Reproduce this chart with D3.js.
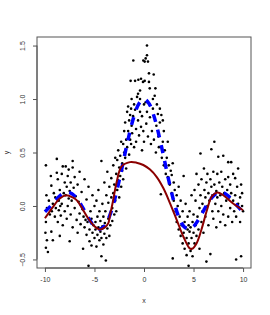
<!DOCTYPE html>
<html>
<head>
<meta charset="utf-8">
<script src="https://cdn.jsdelivr.net/npm/d3@7"></script>
<style>
  body { margin: 0; background: #fff; }
  text { font-family: "Liberation Sans", Arial, sans-serif; fill: #333; }
</style>
</head>
<body>
<div id="chart"></div>
<script>
// observed points [x, y]
var points = [
  [-9.9,0.38],[-9.85,0.1],[-9.8,-0.02],[-9.9,-0.15],[-9.95,-0.25],[-9.8,-0.32],[-9.9,-0.39],[-9.7,-0.43],[-9.6,0.05],[-9.5,-0.08],
  [-9.4,0.28],[-9.35,0.19],[-9.35,-0.24],[-9.2,-0.32],[-9.3,-0.05],[-9.2,0.02],[-9.1,0.12],[-9.0,-0.1],[-8.95,0.08],[-8.9,-0.02],
  [-8.8,0.44],[-8.8,0.31],[-8.7,0.25],[-8.7,-0.15],[-8.6,0.05],[-8.6,-0.04],[-8.5,0.15],[-8.5,-0.28],[-8.45,0.0],[-8.4,-0.09],
  [-8.3,0.3],[-8.3,0.02],[-8.2,0.37],[-8.2,-0.18],[-8.1,0.12],[-8.0,0.22],[-8.0,-0.05],[-7.9,0.37],[-7.9,0.1],[-7.8,0.18],
  [-7.8,-0.12],[-7.7,0.28],[-7.7,0.0],[-7.6,0.34],[-7.6,0.07],[-7.5,-0.33],[-7.5,0.14],[-7.4,0.22],[-7.4,-0.08],[-7.3,0.05],
  [-7.2,0.42],[-7.2,0.36],[-7.2,-0.2],[-7.1,0.17],[-7.0,0.27],[-7.0,-0.02],[-6.9,0.09],[-6.8,-0.13],[-6.7,0.2],[-6.7,-0.25],
  [-6.6,0.04],[-6.5,0.32],[-6.5,-0.07],[-6.4,-0.17],[-6.3,0.13],[-6.2,-0.03],[-6.15,-0.4],[-6.1,-0.1],[-6.0,0.25],[-6.0,-0.2],
  [-5.9,-0.13],[-5.8,0.06],[-5.8,-0.27],[-5.7,-0.15],[-5.6,-0.56],[-5.6,0.18],[-5.5,-0.22],[-5.5,-0.33],[-5.4,-0.05],[-5.3,-0.12],
  [-5.3,-0.37],[-5.2,0.1],[-5.2,-0.25],[-5.1,-0.18],[-5.0,-0.3],[-5.0,0.0],
  [-4.9,-0.15],[-4.9,-0.22],[-4.8,0.05],[-4.8,-0.38],[-4.7,-0.1],[-4.7,-0.27],[-4.6,-0.2],[-4.6,0.15],[-4.5,-0.32],[-4.5,-0.05],
  [-4.4,-0.24],[-4.4,-0.14],[-4.3,0.42],[-4.3,-0.47],[-4.3,-0.3],[-4.2,-0.19],[-4.2,0.02],[-4.1,-0.36],[-4.1,-0.1],[-4.0,-0.26],
  [-4.0,0.22],[-3.95,-0.16],[-3.85,-0.51],[-3.9,-0.05],[-3.8,-0.3],[-3.8,0.1],[-3.7,-0.21],[-3.7,0.32],[-3.6,-0.12],[-3.6,0.03],
  [-3.5,-0.28],[-3.5,0.18],[-3.4,-0.07],[-3.4,-0.18],[-3.3,0.08],[-3.3,0.26],[-3.2,-0.02],[-3.2,-0.14],[-3.1,0.38],[-3.1,0.12],
  [-3.0,-0.08],[-3.0,0.2],[-2.9,0.45],[-2.9,0.05],[-2.8,0.3],[-2.8,-0.05],[-2.7,0.43],[-2.7,0.15],[-2.6,0.24],[-2.6,0.52],
  [-2.5,0.36],[-2.5,0.08],[-2.4,0.28],[-2.4,0.47],[-2.3,0.18],[-2.3,0.6],[-2.2,0.4],[-2.2,0.33],[-2.1,0.58],[-2.1,0.25],
  [-2.0,0.5],[-2.0,0.7],
  [-1.9,0.45],[-1.9,0.78],[-1.8,0.62],[-1.8,0.35],[-1.7,0.55],[-1.7,0.88],[-1.6,0.93],[-1.6,0.7],[-1.5,0.48],[-1.5,0.8],
  [-1.4,0.85],[-1.4,0.62],[-1.35,1.17],[-1.3,0.91],[-1.3,0.58],[-1.25,1.0],[-1.25,0.75],[-1.2,0.68],[-1.1,0.84],[-1.08,1.36],
  [-1.0,0.55],[-1.0,0.95],[-0.9,1.17],[-0.9,0.9],[-0.8,0.72],[-0.8,0.6],[-0.7,1.02],[-0.6,1.05],[-0.6,0.8],[-0.57,1.18],
  [-0.5,0.66],[-0.4,1.08],[-0.4,1.0],[-0.4,0.88],[-0.3,1.19],[-0.3,0.74],[-0.2,0.84],[-0.2,0.52],[-0.1,1.16],[-0.07,1.36],
  [-0.07,0.7],[0.0,0.95],[0.0,0.6],
  [0.07,1.35],[0.07,1.17],[0.17,1.38],[0.17,0.97],[0.23,0.77],[0.3,1.5],[0.3,1.41],[0.3,0.88],[0.4,1.35],[0.4,0.65],
  [0.5,1.24],[0.5,1.16],[0.55,0.95],[0.58,1.1],[0.6,0.83],[0.7,0.58],[0.8,0.7],[0.9,1.0],[0.9,0.91],[0.98,1.23],
  [1.0,0.62],[1.08,1.03],[1.15,1.1],[1.2,0.5],[1.25,0.75],[1.3,0.95],[1.4,0.86],[1.45,0.65],[1.5,0.55],[1.6,0.91],
  [1.6,0.78],[1.7,0.11],[1.75,0.85],[1.8,0.45],[1.9,0.8],[1.9,0.6],[2.0,0.7],[2.0,0.38],
  [2.1,0.52],[2.2,0.3],[2.3,0.45],[2.4,0.27],[2.4,0.6],[2.5,0.38],[2.6,0.2],[2.7,0.33],[2.8,0.29],[2.8,0.12],
  [2.9,-0.49],[2.9,0.4],[3.0,0.05],[3.0,0.22],[3.1,0.15],[3.2,-0.05],[3.3,0.1],[3.3,-0.15],[3.4,0.0],[3.5,-0.22],
  [3.5,0.18],[3.6,-0.1],[3.7,-0.28],[3.7,0.05],[3.8,-0.18],[3.9,-0.35],[3.9,-0.05],[4.0,0.28],[4.0,-0.25],[4.1,-0.15],
  [4.1,-0.4],[4.2,-0.2],[4.2,0.02],[4.3,-0.46],[4.3,-0.3],[4.4,-0.22],[4.4,-0.1],[4.5,-0.56],[4.5,-0.18],[4.5,-0.35],
  [4.6,-0.24],[4.6,-0.05],[4.7,-0.42],[4.7,-0.2],[4.8,-0.3],[4.8,0.1],[4.9,-0.47],[4.9,-0.15],[5.0,-0.25],[5.0,-0.08],
  [5.1,0.15],[5.1,-0.35],[5.2,-0.18],[5.2,0.05],[5.3,-0.28],[5.3,0.3],[5.4,-0.1],[5.5,0.2],[5.5,-0.22],[5.6,-0.02],
  [5.6,-0.4],[5.7,0.49],[5.7,0.1],[5.8,-0.15],[5.8,0.25],[5.9,-0.05],[5.9,0.02],[6.05,0.35],[6.0,-0.25],[6.1,0.15],
  [6.2,-0.1],[6.2,0.08],[6.3,-0.52],[6.3,0.22],[6.4,0.0],[6.4,0.3],[6.5,0.12],[6.5,-0.18],[6.6,0.05],[6.7,-0.45],
  [6.7,0.25],[6.8,0.53],[6.8,0.18],[6.9,-0.05],[6.9,0.1],[7.0,0.32],[7.0,-0.12],[7.1,0.6],[7.1,0.2],[7.2,0.02],
  [7.3,0.14],[7.3,-0.2],[7.4,0.3],[7.4,0.08],[7.5,0.46],[7.5,-0.05],[7.6,0.22],[7.7,0.1],[7.7,-0.15],[7.8,0.32],
  [7.8,0.0],[7.9,0.18],[8.0,0.47],[8.0,-0.08],[8.1,0.12],[8.2,0.25],[8.2,-0.18],[8.3,0.05],[8.4,0.15],[8.5,0.41],
  [8.5,0.27],[8.5,-0.1],[8.6,0.08],[8.7,0.2],[8.7,-0.02],[8.8,0.41],[8.8,0.12],[8.9,-0.15],[9.0,0.05],[9.0,0.3],
  [9.1,-0.05],[9.2,0.26],[9.2,0.1],[9.3,-0.5],[9.3,-0.1],[9.4,0.18],[9.5,0.02],[9.5,0.35],[9.6,-0.02],[9.7,0.08],
  [9.7,-0.15],[9.8,0.2],[9.8,-0.47],[9.9,0.0],[9.9,0.12],[10.0,-0.05]
];

// true curve (blue dashed)
var trueX = [-10,-9.5,-9,-8.5,-8,-7.5,-7,-6.5,-6,-5.5,-5,-4.5,-4,-3.5,-3,-2.5,-2,-1.5,-1,-0.5,0,
             0.5,1,1.5,2,2.5,3,3.5,4,4.5,5,5.5,6,6.5,7,7.5,8,8.5,9,9.5,10];
var trueY = [-0.054,-0.008,0.046,0.094,0.124,0.125,0.094,0.033,-0.047,-0.128,-0.192,-0.217,-0.189,-0.100,0.047,0.239,0.455,0.665,0.841,0.959,1.0,
             0.959,0.841,0.665,0.455,0.239,0.047,-0.100,-0.189,-0.217,-0.192,-0.128,-0.047,0.033,0.094,0.125,0.124,0.094,0.046,-0.008,-0.054];

// smoothed fit (dark red)
var fitX = [-10,-9.2,-8.5,-7.85,-7.2,-6.8,-6.2,-5.75,-5,-4.45,-3.95,-3.6,-3.44,-3.1,-2.77,-2.26,-1.42,-0.75,-0.07,0.61,1.29,1.96,2.63,3.3,3.99,4.6,4.85,5.3,5.8,6.35,6.85,7.4,8.0,8.9,10];
var fitY = [-0.115,-0.01,0.07,0.1,0.08,0.055,-0.03,-0.1,-0.19,-0.22,-0.2,-0.16,-0.09,0.06,0.22,0.37,0.41,0.405,0.383,0.34,0.27,0.165,0.025,-0.13,-0.29,-0.395,-0.4,-0.35,-0.22,-0.04,0.09,0.125,0.1,0.03,-0.04];

var xTicks = [-10, -5, 0, 5, 10];
var yTicks = [-0.5, 0.0, 0.5, 1.0, 1.5];

var width = 270, height = 315;
var margin = {top: 37, right: 19, bottom: 47, left: 37};

var svg = d3.select("#chart").append("svg")
    .attr("width", width)
    .attr("height", height);

var xScale = d3.scaleLinear()
    .domain([-10.8, 10.8])
    .range([margin.left, width - margin.right]);

var yScale = d3.scaleLinear()
    .domain([-0.58, 1.58])
    .range([height - margin.bottom, margin.top]);

// points
svg.append("g")
  .selectAll("circle")
  .data(points)
  .enter().append("circle")
    .attr("cx", function(d) { return xScale(d[0]); })
    .attr("cy", function(d) { return yScale(d[1]); })
    .attr("r", 1.3)
    .attr("fill", "#000");

// blue dashed true function
var trueLine = d3.line()
    .x(function(d, i) { return xScale(trueX[i]); })
    .y(function(d) { return yScale(d); })
    .curve(d3.curveCatmullRom);

svg.append("path")
    .attr("d", trueLine(trueY))
    .attr("fill", "none")
    .attr("stroke", "#0000ff")
    .attr("stroke-width", 3.5)
    .attr("stroke-dasharray", "8,8");

// dark red fit
var fitLine = d3.line()
    .x(function(d, i) { return xScale(fitX[i]); })
    .y(function(d) { return yScale(d); })
    .curve(d3.curveCatmullRom);

svg.append("path")
    .attr("d", fitLine(fitY))
    .attr("fill", "none")
    .attr("stroke", "#8b0000")
    .attr("stroke-width", 2);

// box
svg.append("rect")
    .attr("x", margin.left)
    .attr("y", margin.top)
    .attr("width", width - margin.left - margin.right)
    .attr("height", height - margin.top - margin.bottom)
    .attr("fill", "none")
    .attr("stroke", "#555")
    .attr("stroke-width", 1);

// axes
var xAxis = d3.axisBottom(xScale)
    .tickValues(xTicks)
    .tickSize(4)
    .tickPadding(5)
    .tickFormat(function(d) { return String(d); });

var gx = svg.append("g")
    .attr("transform", "translate(0," + (height - margin.bottom) + ")")
    .call(xAxis);
gx.select(".domain").attr("stroke", "#555").attr("d",
    "M" + xScale(xTicks[0]) + ",0H" + xScale(xTicks[xTicks.length - 1]));
gx.selectAll(".tick line").attr("stroke", "#555");
gx.selectAll("text").style("font-size", "7px").style("fill", "#333");

var yAxis = d3.axisLeft(yScale)
    .tickValues(yTicks)
    .tickSize(4)
    .tickFormat(d3.format(".1f"));

var gy = svg.append("g")
    .attr("transform", "translate(" + margin.left + ",0)")
    .call(yAxis);
gy.select(".domain").attr("stroke", "#555").attr("d",
    "M0," + yScale(yTicks[0]) + "V" + yScale(yTicks[yTicks.length - 1]));
gy.selectAll(".tick line").attr("stroke", "#555");
gy.selectAll("text")
    .style("font-size", "7px")
    .style("fill", "#333")
    .attr("text-anchor", "middle")
    .attr("x", 0)
    .attr("dy", 0)
    .attr("transform", "translate(-12,0) rotate(-90)");

// axis titles
svg.append("text")
    .attr("x", xScale(0))
    .attr("y", 303)
    .attr("text-anchor", "middle")
    .style("font-size", "7px")
    .text("x");

svg.append("text")
    .attr("transform", "translate(9," + yScale(0.5) + ") rotate(-90)")
    .attr("text-anchor", "middle")
    .style("font-size", "7px")
    .text("y");
</script>
</body>
</html>
